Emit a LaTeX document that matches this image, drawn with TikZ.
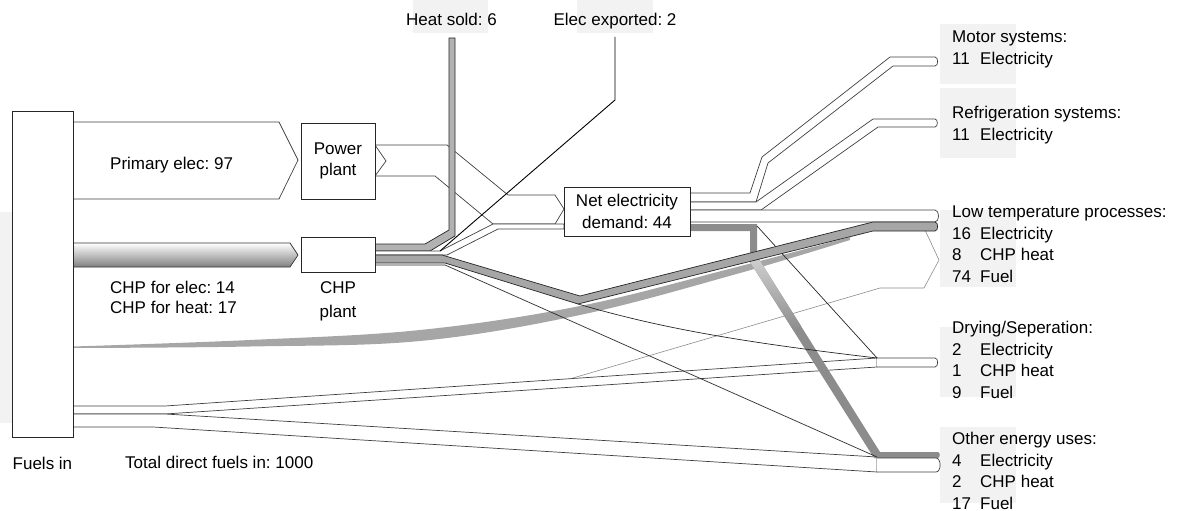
\documentclass[tikz,border=0pt]{standalone}
\usepackage{fontspec}
\setmainfont{Liberation Sans}
\usetikzlibrary{positioning}
\tikzset{
  box/.style={draw=black!85,fill=white,line width=0.8pt,inner sep=0pt,align=center},
  band/.style={draw=black!75,fill=white,line width=0.7pt},
  heatband/.style={draw=black!85,fill=black!35,line width=0.7pt},
  flow/.style={draw=black!85,line width=0.7pt},
  txt/.style={inner sep=0pt},
  endlbl/.style={inner sep=0pt,align=left,anchor=north west},
}
\newcommand{\valcol}[1]{\makebox[28pt][l]{#1}}
\frenchspacing

\begin{document}
\begin{tikzpicture}[x=1pt,y=-1pt,font=\fontsize{17}{21.5}\selectfont]
\useasboundingbox (0,0) rectangle (1183,511);

% pale label panels
\fill[black!5] (413,0) rectangle (488,33);
\fill[black!5] (577,0) rectangle (653,33);
\fill[black!5] (0,212) rectangle (12,423);
\foreach \a/\b in {24/84,88/158,210/287,327/397,427/503}
  \fill[black!5] (940,\a) rectangle (1016,\b);

% direct fuels: drying, other uses, low temperature
\draw[band] (73,406) -- (165,406) -- (877,358) -- (877,367) -- (165,414) -- (73,414);
\draw[band] (73,414) -- (165,414) -- (877,457) -- (877,472) -- (153,427) -- (73,427);
\draw[black!45,line width=0.6pt] (573,378) -- (880,288) -- (924,288) -- (939,260) -- (925,230);
\fill[black!35] plot[smooth,tension=0.6] coordinates {(73,346.5) (250,340) (420,330) (580,306) (733,268) (850,237)}
  -- plot[smooth,tension=0.6] coordinates {(850,240) (733,275) (580,315) (420,341) (250,346.5) (73,348)} -- cycle;

% into the plants
\draw[band] (73,122) -- (279,122) -- (298,160) -- (279,199) -- (73,199);
\shade[top color=white,bottom color=black!50] (73,243) -- (290,243) -- (298,255) -- (290,267) -- (73,267) -- cycle;
\draw[black!80,line width=0.7pt] (73,243) -- (290,243) -- (298,255) -- (290,267) -- (73,267);

% power plant to net demand
\draw[band] (375,145) -- (447,145) -- (508,195) -- (555,195) -- (564,209) -- (555,224) -- (493,224) -- (435,176) -- (375,176) -- (386,161) -- cycle;

% net demand out
\fill[black!45] (690,224) -- (757,224) -- (757,256) -- (880,452) -- (938,452) to[out=0,in=0] (938,458) -- (874,458) -- (750,262) -- (750,231) -- (690,231) -- cycle;
\shade[top color=black!18,bottom color=black!45] (757,256) -- (801,326) -- (794,331) -- (750,262) -- cycle;
\draw[flow] (757,226) -- (877,358);
\draw[band] (690,193) -- (750,193) -- (762,157) -- (890,57) -- (935,57) to[out=0,in=0] (935,66) -- (893,66) -- (768,163) -- (756,202) -- (690,202);
\draw[band] (690,202) -- (756,202) -- (873,119) -- (935,119) to[out=0,in=0] (935,127) -- (878,127) -- (761,210) -- (690,210);
\draw[band] (690,210) -- (935,210) to[out=0,in=0] (935,222) -- (690,222);

% CHP out
\draw[heatband,fill=black!30] (449,38) -- (455,38) -- (455,236) -- (430,251) -- (375,251) -- (375,244) -- (425,244) -- (449,230) -- cycle;
\draw[band] (375,251) -- (440,251) -- (493,224) -- (564,224) -- (564,229) -- (498,229) -- (447,255) -- (375,255) -- cycle;
\draw[heatband] (375,255) -- (442,255) -- (580,296) -- (873,222) -- (935,222) to[out=0,in=0] (935,231) -- (873,231) -- (578,304) -- (445,263) -- (375,263) -- cycle;
\draw[flow] (375,265) -- (445,265) -- (877,457);
\draw[flow] (578,304) .. controls (660,328) and (740,342) .. (877,358);
\draw[flow,black,line width=0.9pt] (615,37) -- (615,100) -- (440,251);

% arrivals
\draw[band] (877,358) -- (935,358) to[out=0,in=0] (935,367) -- (877,367);
\draw[band] (877,458) -- (936,458) to[out=0,in=0] (936,472) -- (877,472);

% boxes
\node[box,minimum width=61pt,minimum height=326pt] (fuels) at (42.5,274) {};
\node[box,minimum width=74pt,minimum height=76pt] (power) at (338,161) {Power\\plant};
\node[box,minimum width=74pt,minimum height=35pt] (chp) at (338,254.5) {};
\node[box,minimum width=126pt,minimum height=49pt] (net) at (627,211.5) {Net electricity\\demand: 44};

% labels
\node[txt,anchor=base] (heatsold) at (451.5,26) {Heat sold: 6};
\node[txt,anchor=base] (export) at (615,26) {Elec exported: 2};
\node[txt,anchor=base west] (primary) at (110,169.3) {Primary elec: 97};
\node[txt,anchor=base west] (chpelec) at (110,293.3) {CHP for elec: 14};
\node[txt,anchor=base west] (chpheat) at (110,313.3) {CHP for heat: 17};
\node[txt,anchor=base] (chpname) at (338,293.5) {CHP};
\node[txt,anchor=base] (chpplant) at (338,317) {plant};
\node[txt,anchor=base west] (fuelsin) at (12.5,469.3) {Fuels in};
\node[txt,anchor=base west] (total) at (125,468.5) {Total direct fuels in: 1000};

\foreach \n/\y/\t in {motor/31/{Motor systems:\\\valcol{11}Electricity},
    fridge/106/{Refrigeration systems:\\\valcol{11}Electricity},
    lowtemp/206/{Low temperature processes:\\\valcol{16}Electricity\\\valcol{8}CHP heat\\\valcol{74}Fuel},
    drying/321/{Drying/Seperation:\\\valcol{2}Electricity\\\valcol{1}CHP heat\\\valcol{9}Fuel},
    other/432/{Other energy uses:\\\valcol{4}Electricity\\\valcol{2}CHP heat\\\valcol{17}Fuel}}
  \node[endlbl] (\n) at (952,\y) {\t};
\end{tikzpicture}
\end{document}
